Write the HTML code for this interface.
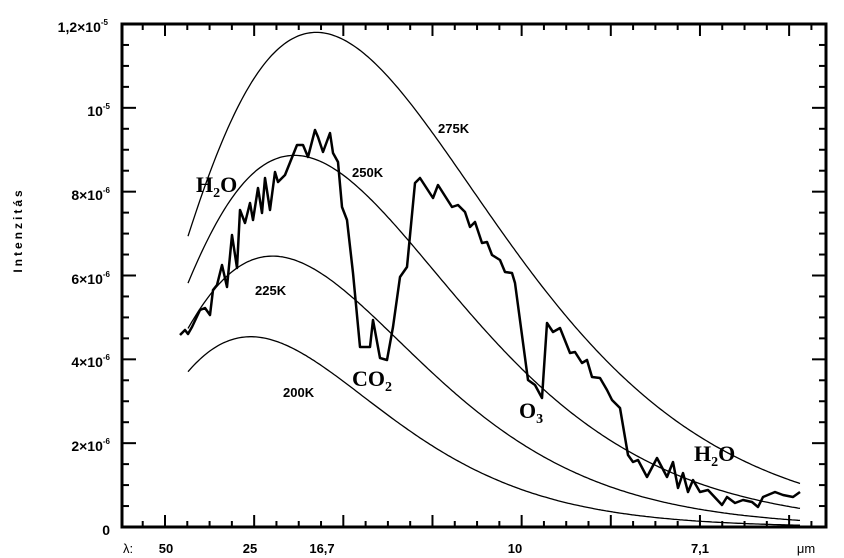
<!DOCTYPE html>
<html><head><meta charset="utf-8"><style>
body{margin:0;background:#fff;}
svg{display:block;font-family:"Liberation Sans",sans-serif;}
</style></head><body>
<svg id="s" width="844" height="558" viewBox="0 0 844 558" xmlns="http://www.w3.org/2000/svg">
<g font-weight="bold" font-size="14" text-anchor="end" fill="#000">
<text x="108" y="32">1,2×10<tspan font-size="8" dy="-7">-5</tspan></text>
<text x="110" y="116">10<tspan font-size="8" dy="-7">-5</tspan></text>
<text x="110" y="200">8×10<tspan font-size="8" dy="-7">-6</tspan></text>
<text x="110" y="284">6×10<tspan font-size="8" dy="-7">-6</tspan></text>
<text x="110" y="367">4×10<tspan font-size="8" dy="-7">-6</tspan></text>
<text x="110" y="451">2×10<tspan font-size="8" dy="-7">-6</tspan></text>
<text x="110" y="535">0</text>
</g>
<text transform="translate(22,230) rotate(-90)" font-size="12" font-weight="bold" text-anchor="middle" letter-spacing="3">Intenzitás</text>
<g font-weight="bold" font-size="13" text-anchor="middle">
<text x="128" y="553" font-weight="normal">λ:</text>
<text x="166" y="553">50</text>
<text x="250" y="553">25</text>
<text x="322" y="553">16,7</text>
<text x="515" y="553">10</text>
<text x="700" y="553">7,1</text>
<text x="806" y="553" font-weight="normal">μm</text>
</g>
<g font-weight="bold" font-size="13">
<text x="438" y="133">275K</text>
<text x="352" y="177">250K</text>
<text x="255" y="295">225K</text>
<text x="283" y="397">200K</text>
</g>
<g font-family="'Liberation Serif',serif" font-size="22" font-weight="bold">
<text x="196" y="192">H<tspan font-size="14" dy="5">2</tspan><tspan dy="-5">O</tspan></text>
<text x="352" y="386">CO<tspan font-size="14" dy="5">2</tspan></text>
<text x="519" y="418">O<tspan font-size="14" dy="5">3</tspan></text>
<text x="694" y="461">H<tspan font-size="14" dy="5">2</tspan><tspan dy="-5">O</tspan></text>
</g>
<g id="g"></g>
</svg>
<script>
var g=document.getElementById('g'),h='';
var L=122,R=826,T=24,B=527;
function X(n){return 165+(n-0.02)*4458;}
function Y(v){return B-v/1.2e-5*(B-T);}
h+='<rect x="'+L+'" y="'+T+'" width="'+(R-L)+'" height="'+(B-T)+'" fill="none" stroke="#000" stroke-width="3"/>';
for(var i=1;i<24;i++){var y=B-i*(B-T)/24,len=(i%4==0)?14:7;
h+='<line x1="'+L+'" y1="'+y+'" x2="'+(L+len)+'" y2="'+y+'" stroke="#000" stroke-width="2"/>';
h+='<line x1="'+R+'" y1="'+y+'" x2="'+(R-len)+'" y2="'+y+'" stroke="#000" stroke-width="2"/>';}
for(var k=0;;k++){var n=0.015+k*0.005,x=X(n);if(x>R-3)break;if(x<L+3)continue;var len=(Math.round(n*1000)%20==0)?12:6;
h+='<line x1="'+x+'" y1="'+B+'" x2="'+x+'" y2="'+(B-len)+'" stroke="#000" stroke-width="2"/>';
h+='<line x1="'+x+'" y1="'+T+'" x2="'+x+'" y2="'+(T+len)+'" stroke="#000" stroke-width="2"/>';}
var c2=14388;function P(n,t){return Math.pow(n,3)/(Math.exp(c2*n/t)-1);}
var nm=2.821*275/c2,K=1.18e-5/P(nm,275);
[200,225,250,275].forEach(function(t){var d='';for(var x=188;x<=800;x+=2){var n=0.02+(x-165)/4458;d+=(d?'L':'M')+x+','+Y(K*P(n,t)).toFixed(1);}
h+='<path d="'+d+'" fill="none" stroke="#000" stroke-width="1.3"/>';});
var p=[[180,335],[185,330],[188,334],[192,327],[200,310],[205,308],[210,315],[213,290],[217,285],[222,265],[227,287],[232,235],[237,268],[240,210],[245,223],[250,203],[253,220],[258,188],[262,213],[265,178],[270,210],[275,172],[278,182],[285,175],[297,145],[303,145],[308,157],[315,130],[318,137],[323,152],[330,133],[333,153],[338,162],[342,207],[347,220],[353,273],[360,347],[370,347],[373,320],[380,358],[387,360],[393,327],[400,277],[407,267],[415,183],[420,178],[433,198],[438,185],[452,207],[458,205],[465,212],[470,227],[475,222],[482,243],[487,242],[492,255],[500,260],[505,272],[512,273],[515,283],[528,380],[535,385],[542,398],[547,323],[553,332],[560,328],[570,353],[575,352],[582,363],[587,360],[592,377],[600,378],[607,390],[612,400],[620,408],[628,455],[633,462],[638,460],[647,477],[657,458],[667,477],[673,462],[678,488],[683,473],[688,492],[693,480],[700,492],[708,490],[722,505],[727,497],[735,503],[743,500],[752,502],[758,507],[763,497],[775,492],[783,495],[793,497],[800,492]];
h+='<polyline points="'+p.join(' ')+'" fill="none" stroke="#000" stroke-width="2.5" stroke-linejoin="round"/>';
g.innerHTML=h;
</script>
</body></html>
